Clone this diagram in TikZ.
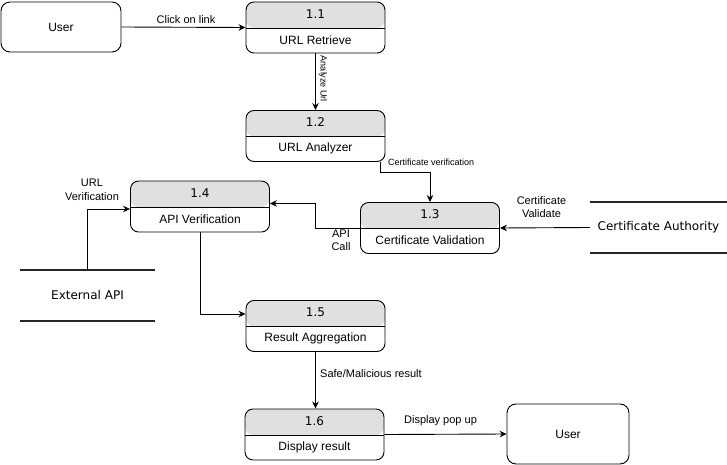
\documentclass[tikz,border=0pt]{standalone}
\usepackage{fontspec}
\setmainfont{Liberation Sans}
\newfontfamily\djv{DejaVu Sans}
\usetikzlibrary{arrows.meta,calc}
\definecolor{hdr}{HTML}{E0E0E0}
\tikzset{
  proc/.style={draw=black, line width=0.9pt, rounded corners=8pt, minimum width=139pt, minimum height=51pt, inner sep=0pt,
    path picture={
      \fill[hdr] (path picture bounding box.north west) rectangle ([yshift=-26pt]path picture bounding box.north east);
      \draw[line width=0.9pt] ([yshift=-26pt]path picture bounding box.north west) -- ([yshift=-26pt]path picture bounding box.north east);
    }},
  ext/.style={draw=black, line width=0.9pt, rounded corners=9pt, inner sep=0pt, font=\fontsize{12}{14}\selectfont},
  num/.style={font=\djv\fontsize{12}{14}\selectfont, inner sep=0pt},
  ptext/.style={font=\fontsize{12}{14}\selectfont, inner sep=0pt},
  store/.style={inner sep=0pt, minimum height=51pt, font=\djv\fontsize{12}{14}\selectfont},
  storeline/.style={line width=1.6pt, draw=black!85},
  flow/.style={draw=black, line width=0.9pt, -{Stealth[length=7pt,width=6.5pt]}},
  lbl/.style={font=\fontsize{11}{13}\selectfont, inner sep=0pt},
  slbl/.style={font=\fontsize{11}{13.5}\selectfont, inner sep=0pt, align=center},
}
\begin{document}
\begin{tikzpicture}[x=1pt,y=-1pt]
\useasboundingbox (0,0) rectangle (727,465);
% external entities
\node[ext, minimum width=120pt, minimum height=50pt] (user1) at (61,27) {User};
\node[ext, minimum width=122pt, minimum height=60pt] (user2) at (568,434) {User};
% processes
\node[proc] (p11) at (315.5,27.5) {};
\node[num] (p11n) at (315.5,14) {1.1};
\node[ptext] (p11t) at (315.5,40) {URL Retrieve};
\node[proc] (p12) at (315.5,136) {};
\node[num] (p12n) at (315.5,122.5) {1.2};
\node[ptext] (p12t) at (315.5,148.5) {URL Analyzer};
\node[proc] (p13) at (430,228) {};
\node[num] (p13n) at (430,214.5) {1.3};
\node[ptext] (p13t) at (430,240.5) {Certificate Validation};
\node[proc] (p14) at (200,206.5) {};
\node[num] (p14n) at (200,193) {1.4};
\node[ptext] (p14t) at (200,219) {API Verification};
\node[proc] (p15) at (315.5,326) {};
\node[num] (p15n) at (315.5,312.5) {1.5};
\node[ptext] (p15t) at (315.5,338.5) {Result Aggregation};
\node[proc] (p16) at (314.5,434.5) {};
\node[num] (p16n) at (314.5,421) {1.6};
\node[ptext] (p16t) at (314.5,447) {Display result};
% data stores
\node[store, minimum width=135pt] (extapi) at (87.5,295.5) {External API};
\draw[storeline] (extapi.north west) -- (extapi.north east);
\draw[storeline] (extapi.south west) -- (extapi.south east);
\node[store, minimum width=137pt] (ca) at (658.5,227.5) {Certificate Authority};
\draw[storeline] (ca.north west) -- (ca.north east);
\draw[storeline] (ca.south west) -- (ca.south east);
% flows
\draw[flow] (user1.east) -- (p11.west);
\node[lbl] (l1) at (186,20) {Click on link};
\draw[flow] (p11.south) -- (p12.north);
\node[font=\fontsize{9}{11}\selectfont, inner sep=0pt, rotate=-90] (l2) at (323,79) {Analyze Url};
\draw[flow] ([xshift=-5.5pt]p12.south east) -- ++(0,10) -| (p13.north);
\node[font=\fontsize{9}{11}\selectfont, inner sep=0pt, anchor=west] (l3) at (388,162.5) {Certificate verification};
\draw[flow] (ca.west) -- (p13.east);
\node[slbl] (l4) at (541.5,207) {Certificate\\Validate};
\draw[flow] (p13.west) -- ++(-45,0) |- ([yshift=3pt]p14.east);
\node[slbl] (l5) at (341,240.5) {API\\Call};
\draw[flow] (extapi.north) |- ([yshift=-2.5pt]p14.west);
\node[slbl] (l6) at (92,190) {URL\\Verification};
\draw[flow] (p14.south) |- ([yshift=12pt]p15.west);
\draw[flow] (p15.south) -- (p16.north -| p15.south);
\node[lbl, anchor=west] (l7) at (320,374) {Safe/Malicious result};
\draw[flow] (p16.east) -- (user2.west);
\node[lbl] (l8) at (440.5,421) {Display pop up};
\end{tikzpicture}
\end{document}
